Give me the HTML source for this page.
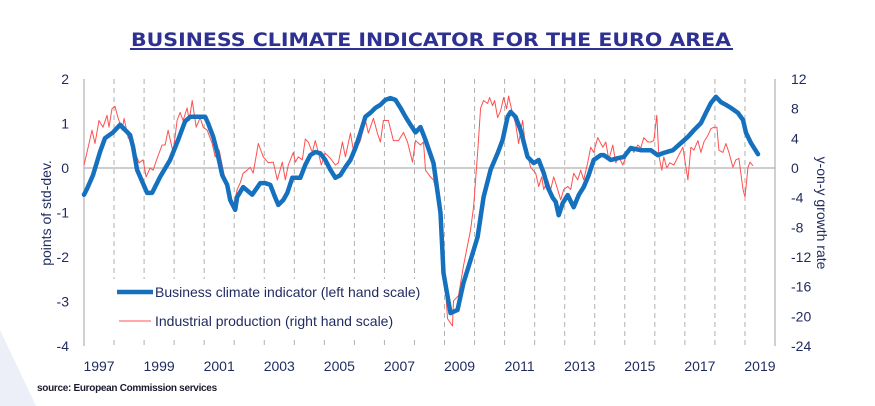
<!DOCTYPE html>
<html><head><meta charset="utf-8"><style>
body{margin:0;background:#fff;}
svg{display:block;font-family:"Liberation Sans",Arial,sans-serif;}
</style></head><body>
<svg id="chart" width="875" height="406" viewBox="0 0 875 406">
<polygon points="0,330 0,406 36,406" fill="#eceef8"/>
<text x="431" y="46" text-anchor="middle" font-family="'DejaVu Sans',sans-serif" font-weight="bold" font-size="19" fill="#2e3192" textLength="600" lengthAdjust="spacingAndGlyphs">BUSINESS CLIMATE INDICATOR FOR THE EURO AREA</text>
<line x1="130" y1="49" x2="733" y2="49" stroke="#2e3192" stroke-width="2"/>
<g id="grid"></g>
<g id="axes"></g>
<rect x="110" y="279" width="312" height="57" fill="#fff"/>
<g id="series"></g>
<g>
<line x1="117" y1="292" x2="153" y2="292" stroke="#1570be" stroke-width="4.5"/>
<text x="155" y="297" font-size="14" fill="#1f2a5e">Business climate indicator (left hand scale)</text>
<line x1="119" y1="321" x2="151" y2="321" stroke="#ff5050" stroke-width="1"/>
<text x="155" y="326" font-size="14" fill="#1f2a5e">Industrial production (right hand scale)</text>
</g>
<text transform="translate(51,213) rotate(-90)" text-anchor="middle" font-size="14" fill="#1f2a5e">points of std-dev.</text>
<text transform="translate(817,213) rotate(90)" text-anchor="middle" font-size="14" fill="#1f2a5e">y-on-y growth rate</text>
<text x="37" y="391" font-size="10" font-weight="bold" fill="#1a1a2e" letter-spacing="-0.3">source: European Commission services</text>
</svg>
<script>
const leftTicks=[2,1,0,-1,-2,-3,-4];
const rightTicks=[12,8,4,0,-4,-8,-12,-16,-20,-24];
const yearLabels=[1997,1999,2001,2003,2005,2007,2009,2011,2013,2015,2017,2019];
// months since Jan 1997
const bciMonths=[0,1.2,3.6,6.4,8.4,11.6,14.4,18.4,19.6,21.2,25.2,27.2,30.4,34.4,37.6,40.4,42.4,46.4,48.4,49.6,51.6,53.2,55.2,57.2,58.4,60.4,61.2,63.6,67.2,70.4,72.4,74.4,76.4,77.6,79.6,81.2,83.2,86.4,88.4,90.4,92.4,94.4,96.4,98.4,100.4,102.4,104.4,106.4,108.4,110.4,112.4,114.4,116.4,118.4,120.4,122.4,124.4,126.4,128.4,130.4,132.4,134.4,136.4,139.6,142.4,143.6,146.4,149.2,151.6,154.4,157.2,159.6,162.4,165.2,167.2,169.2,170.4,172.4,174.4,177.2,179.6,181.6,183.6,185.2,187.2,188.4,189.6,191.2,193.2,195.6,197.6,199.6,201.6,203.6,206.4,207.6,210.4,213.2,215.6,218.4,222.4,226.4,229.2,231.6,235.2,238.4,241.2,243.6,246.4,248.4,250.4,252.4,254.4,256.4,258.4,261.2,263.2,264.4,266.4,269.2];
const bciValues=[-0.6,-0.47,-0.16,0.36,0.67,0.8,0.97,0.74,0.47,-0.04,-0.56,-0.56,-0.2,0.18,0.63,1.05,1.15,1.15,1.15,1.0,0.7,0.36,-0.16,-0.38,-0.72,-0.94,-0.65,-0.43,-0.6,-0.34,-0.34,-0.38,-0.67,-0.83,-0.72,-0.56,-0.22,-0.22,0.07,0.29,0.36,0.33,0.18,-0.04,-0.22,-0.16,0.02,0.18,0.45,0.79,1.15,1.24,1.35,1.42,1.53,1.57,1.53,1.35,1.15,0.97,0.8,0.92,0.63,0.11,-1.01,-2.36,-3.26,-3.19,-2.58,-2.07,-1.55,-0.65,-0.04,0.33,0.63,1.15,1.26,1.15,0.85,0.25,0.11,0.18,-0.11,-0.43,-0.67,-0.76,-1.06,-0.79,-0.61,-0.88,-0.61,-0.43,-0.16,0.18,0.29,0.29,0.18,0.22,0.25,0.45,0.4,0.4,0.29,0.34,0.4,0.56,0.7,0.85,1.01,1.24,1.46,1.6,1.48,1.42,1.35,1.24,1.08,0.79,0.56,0.31];
const ipMonths=[0,1.6,3.2,4.4,6,7.6,9.2,10,11.2,12.4,13.6,15.2,16,17.6,19.2,20.4,22,23.6,24.8,26.4,27.6,29.2,31.2,32.4,33.6,35.6,37.2,38.4,39.6,41.2,42,43.2,44.8,46.4,47.6,49.2,51.2,52.4,54,55.6,57.2,58.4,59.6,61.2,62.4,63.6,65.2,66.4,67.6,69.6,71.6,73.6,75.6,77.2,79.2,80.4,81.6,83.6,84.4,85.6,87.2,88.4,89.6,91.2,92.4,93.6,94.8,96.4,98.4,100.4,101.6,103.2,104.4,106.4,107.6,109.2,110.4,112.4,113.6,115.6,117.2,118.4,119.6,121.6,123.6,125.6,127.6,129.2,131.2,132.4,134.4,135.6,136.4,138.4,139.6,142.4,143.6,144.4,145.2,147.2,147.6,149.6,151.6,154.4,155.6,157.2,158.4,159.6,161.2,162,163.2,164,165.2,166.4,167.6,168.8,169.6,171.2,172.4,173.6,175.2,176.4,178.4,180.4,181.6,182.8,183.6,185.2,186.4,187.6,189.2,190.4,191.6,193.2,194.4,195.6,197.2,198.4,199.6,201.2,202.4,203.6,205.2,207.2,208.4,209.6,211.2,212.4,213.6,215.2,216.4,218.4,219.6,221.2,222.4,223.6,225.2,226.4,227.6,228.8,229.6,230.8,231.6,232.8,234,235.6,237.2,239.2,241.2,242.4,243.6,245.2,246.4,247.6,249.2,250.4,251.6,252.8,253.6,255.2,256.4,257.6,259.2,260.4,261.6,263.2,264,265.2,266,267.2];
const ipValues=[0.4,2.7,5.1,3.3,6.4,5.5,7.1,5.5,8,8.3,6.8,5.1,6.7,4.1,3.3,2.1,0.7,1.1,-1.2,0,-0.3,1.3,3.1,3.1,5.1,2.1,6.4,7.5,6.4,8.1,6.4,9.1,5.5,6.8,5.5,5.1,3.3,1.5,2.4,-0.3,-2.9,-4.9,-5.3,-2.9,-2,-0.7,-0.3,0.1,-0.7,3.3,1.5,0.7,0.8,-1.6,0.8,-1.6,0.4,2.1,0.8,1.5,1.1,3.9,3.5,2.1,3.7,2.1,0.4,2,1.3,0.4,0.7,3.5,1.5,4.7,2.4,2.8,3.7,6.4,4.7,6.7,4.7,3.5,6.4,6.4,3.7,3.7,4.8,3.5,0.8,3.7,3.1,3.5,-0.3,-1.2,-1.6,-5.6,-10.9,-16.3,-20.3,-21.3,-17.9,-17.2,-13.2,-8.3,-5.2,2,8.1,9.1,8.7,9.5,8.4,9.1,6.8,7.7,9.5,8,9.7,7.3,6,3.3,6.4,2.8,0.1,-0.7,-2.5,-1.2,-2.9,-1.6,-2.9,-1.2,-2.9,-4.3,-2.9,-2.5,-2.9,-0.7,-1.6,-0.3,-1.6,0.7,2.8,2.1,4.1,2.8,3.5,1.1,3.1,0.7,1.5,0.4,1.5,2.8,2.1,3.1,2.7,4.1,3.5,3.5,3.7,7.1,1.7,-0.3,1.5,0,0.7,0.4,1.5,2.8,-1.6,2.8,2.4,3.7,2.1,3.5,4.4,5.3,5.5,5.5,2.4,2.1,3.3,2.1,0.1,1.1,1.3,-2.9,-3.9,0.1,0.8,0.3];

const X0=84,X1=775,YT=79,YB=346,NM=276;
const xOf=m=>X0+(m/NM)*(X1-X0);
const yL=v=>YT+(2-v)/6*(YB-YT);
const yR=v=>YT+(12-v)/36*(YB-YT);
const NS='http://www.w3.org/2000/svg';
function mk(tag,attrs,parent){const e=document.createElementNS(NS,tag);for(const k in attrs)e.setAttribute(k,attrs[k]);parent.appendChild(e);return e;}
const grid=document.getElementById('grid'),axes=document.getElementById('axes'),series=document.getElementById('series');
for(let y=1;y<23;y++){
  const l=mk('line',{x1:xOf(y*12),x2:xOf(y*12),y1:YT,y2:YB,stroke:'#b0b0b0','stroke-width':1,'stroke-dasharray':'5,4'},grid);
  
  
}
const zl=mk('line',{x1:X0,x2:X1,y1:yL(0),y2:yL(0),stroke:'#b0b0b0','stroke-width':1.2},axes);


const la=mk('line',{x1:X0,x2:X0,y1:YT,y2:YB,stroke:'#b0b0b0','stroke-width':1.2},axes);


const ra=mk('line',{x1:X1,x2:X1,y1:YT,y2:YB,stroke:'#b0b0b0','stroke-width':1.2},axes);


leftTicks.forEach(v=>{
  const t=mk('text',{x:69,y:yL(v)+5,'text-anchor':'end','font-size':14,fill:'#1f2a5e'},axes);t.textContent=v;
  
  
});
rightTicks.forEach(v=>{
  const t=mk('text',{x:791,y:yR(v)+5,'font-size':14,fill:'#1f2a5e'},axes);t.textContent=v;
  
  
});
yearLabels.forEach(yr=>{
  const m=(yr-1997)*12+6;
  const t=mk('text',{x:xOf(m),y:371,'text-anchor':'middle','font-size':14,fill:'#1f2a5e'},axes);t.textContent=yr;
  
  
});
const ipPts=ipMonths.map((m,i)=>xOf(m).toFixed(1)+','+yR(ipValues[i]).toFixed(1)).join(' ');
const ip=mk('polyline',{points:ipPts,fill:'none',stroke:'#ff5050','stroke-width':1,'stroke-linejoin':'round'},series);


const bPts=bciMonths.map((m,i)=>xOf(m).toFixed(1)+','+yL(bciValues[i]).toFixed(1)).join(' ');
const b=mk('polyline',{points:bPts,fill:'none',stroke:'#1570be','stroke-width':4.5,'stroke-linejoin':'round','stroke-linecap':'round'},series);


</script>
</body></html>
